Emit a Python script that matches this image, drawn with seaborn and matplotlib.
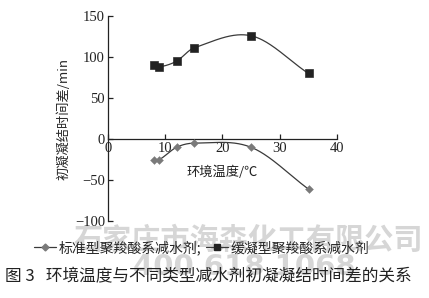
import numpy as np
import pandas as pd
import matplotlib
matplotlib.use("Agg")
import matplotlib.pyplot as plt
import seaborn as sns
from matplotlib.lines import Line2D

# ---- data ----
temps = [8, 9, 12, 15, 25, 35]
standard = [-25, -25, -10, -5, -10, -61]      # 标准型聚羧酸系减水剂
retarding = [90, 88, 95, 111, 126, 80]        # 缓凝型聚羧酸系减水剂
series_names = ["标准型聚羧酸系减水剂;", "缓凝型聚羧酸系减水剂"]
xticks = [0, 10, 20, 30, 40]
yticks = [-100, -50, 0, 50, 100, 150]
xlabel = "环境温度/℃"
ylabel = "初凝凝结时间差/min"
caption = "图 3   环境温度与不同类型减水剂初凝凝结时间差的关系"
watermark1 = "石家庄市海森化工有限公司"
watermark2 = "400 618 1068"


def smooth_curve(x, y, n=200):
    """Catmull-Rom style cubic Hermite curve through the points (for drawing)."""
    x = np.asarray(x, float)
    y = np.asarray(y, float)
    k = len(x)
    m = np.zeros(k)
    m[0] = (y[1] - y[0]) / (x[1] - x[0])
    m[-1] = (y[-1] - y[-2]) / (x[-1] - x[-2])
    for i in range(1, k - 1):
        m[i] = (y[i + 1] - y[i - 1]) / (x[i + 1] - x[i - 1])
    xs = np.linspace(x[0], x[-1], n)
    idx = np.clip(np.searchsorted(x, xs) - 1, 0, k - 2)
    h = x[idx + 1] - x[idx]
    t = (xs - x[idx]) / h
    h00 = 2 * t ** 3 - 3 * t ** 2 + 1
    h10 = t ** 3 - 2 * t ** 2 + t
    h01 = -2 * t ** 3 + 3 * t ** 2
    h11 = t ** 3 - t ** 2
    ys = h00 * y[idx] + h10 * h * m[idx] + h01 * y[idx + 1] + h11 * h * m[idx + 1]
    return xs, ys


sns.set_style("ticks")
plt.rcParams["font.family"] = ["Liberation Serif", "Noto Sans CJK SC", "DejaVu Sans"]

fig = plt.figure(figsize=(4.29, 2.98), dpi=100)
ax = fig.add_axes([0.251, 0.258, 0.535, 0.688])

# watermark
fig.text(0.578, 0.195, watermark1, ha="center", va="center", fontsize=21,
         color="#d6d6d6", fontweight="bold", family=["Noto Sans CJK SC"], zorder=0)
fig.text(0.57, 0.104, watermark2, ha="center", va="center", fontsize=21,
         color="#d6d6d6", fontweight="bold", family=["DejaVu Sans"], zorder=0)

line_color = "#3a3a3a"
std_color = "#7a7a7a"
ret_color = "#222222"

xs, ys = smooth_curve(temps, standard)
sns.lineplot(x=xs, y=ys, ax=ax, color=line_color, lw=0.9, estimator=None, sort=False)
xs, ys = smooth_curve(temps, retarding)
sns.lineplot(x=xs, y=ys, ax=ax, color=line_color, lw=0.9, estimator=None, sort=False)

df = pd.DataFrame({"t": temps, "std": standard, "ret": retarding})
sns.scatterplot(data=df, x="t", y="std", ax=ax, marker="D", s=16, color=std_color,
                edgecolor=std_color, zorder=3)
sns.scatterplot(data=df, x="t", y="ret", ax=ax, marker="s", s=32, color=ret_color,
                edgecolor=ret_color, zorder=3)

ax.set_xlim(0, 40)
ax.set_ylim(-100, 150)
ax.set_xticks(xticks)
ax.set_yticks(yticks)
ax.set_yticklabels([str(v).replace("-", "\u2212") for v in yticks])
ax.spines["top"].set_visible(False)
ax.spines["right"].set_visible(False)
ax.spines["bottom"].set_position(("data", 0))
for s in ("left", "bottom"):
    ax.spines[s].set_linewidth(0.9)
    ax.spines[s].set_color("#222222")
ax.tick_params(direction="in", length=3.5, width=0.9, labelsize=10.5,
               colors="#222222", pad=2)
ax.set_xlabel("")
ax.set_ylabel(ylabel, fontsize=9.5, family=["Noto Sans CJK SC", "DejaVu Sans"],
              labelpad=3)
ax.text(20, -40, xlabel, ha="center", va="center", fontsize=9.5,
        family=["Noto Sans CJK SC", "DejaVu Sans"], color="#222222")

handles = [
    Line2D([], [], color=line_color, lw=0.9, marker="D", markersize=3.5,
           markerfacecolor=std_color, markeredgecolor=std_color),
    Line2D([], [], color=line_color, lw=0.9, marker="s", markersize=4.5,
           markerfacecolor=ret_color, markeredgecolor=ret_color),
]
fig.legend(handles, series_names, loc="center", bbox_to_anchor=(0.47, 0.168),
           ncol=2, frameon=False, handlelength=1.6, handletextpad=0.2,
           columnspacing=0.3, prop={"family": ["Noto Sans CJK SC"], "size": 10})

fig.text(0.012, 0.07, caption, ha="left", va="center", fontsize=12,
         family=["Noto Sans CJK SC", "DejaVu Sans"], color="#222222")

fig.savefig("out.png", dpi=100)
